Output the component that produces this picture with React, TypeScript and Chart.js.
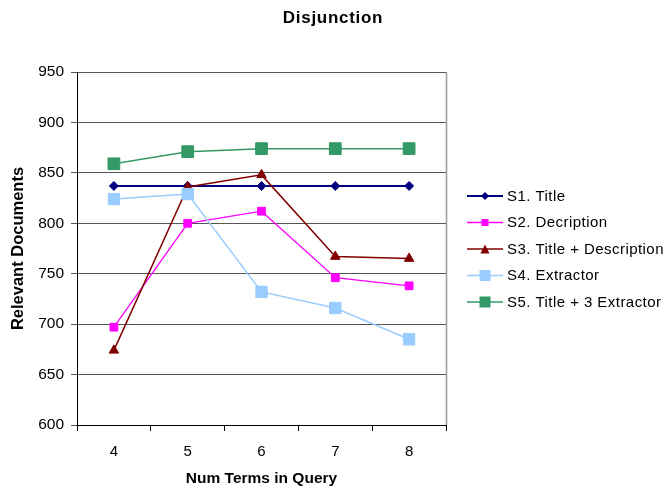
import React, { useEffect, useRef } from "react";
import { Chart, registerables } from "chart.js";

Chart.register(...registerables);

const categories = ["4", "5", "6", "7", "8"];
const seriesNames = [
  "S1. Title",
  "S2. Decription",
  "S3. Title + Description",
  "S4. Extractor",
  "S5. Title + 3 Extractor",
];
const s1Title = [837, 837, 837, 837, 837];
const s2Description = [697, 800, 812, 746, 738];
const s3TitleDescription = [674, 836, 848, 767, 765];
const s4Extractor = [824, 829, 732, 716, 685];
const s5TitleExtractor = [859, 871, 874, 874, 874];

const seriesColors = ["#000080", "#FF00FF", "#800000", "#99CCFF", "#339966"];
const seriesPoints = ["rectRot", "rect", "triangle", "rect", "rect"];
const seriesRadius = [4.5, 5.5, 5.5, 8, 8.3];
const seriesLineWidth = [2, 1.3, 1.5, 1.5, 1.5];

const chartTitle = "Disjunction";
const xTitle = "Num Terms in Query";
const yTitle = "Relevant Documents";

const FONT = "Arial, 'Liberation Sans', sans-serif";

function drawMarker(ctx: CanvasRenderingContext2D, kind: string, x: number, y: number, s: number, color: string) {
  ctx.fillStyle = color;
  ctx.beginPath();
  if (kind === "rect") {
    ctx.rect(x - s / 2, y - s / 2, s, s);
  } else if (kind === "rectRot") {
    ctx.moveTo(x, y - s / 2);
    ctx.lineTo(x + s / 2, y);
    ctx.lineTo(x, y + s / 2);
    ctx.lineTo(x - s / 2, y);
    ctx.closePath();
  } else {
    ctx.moveTo(x, y - s / 2);
    ctx.lineTo(x + s / 2, y + s / 2);
    ctx.lineTo(x - s / 2, y + s / 2);
    ctx.closePath();
  }
  ctx.fill();
}

const legendMarkerSize = [8, 7, 9, 11, 11];

const decorPlugin = {
  id: "decor",
  afterDraw(chart: any) {
    const ctx: CanvasRenderingContext2D = chart.ctx;
    const area = chart.chartArea;
    ctx.save();
    // right border of plot
    ctx.strokeStyle = "#999999";
    ctx.lineWidth = 1.5;
    ctx.beginPath();
    ctx.moveTo(Math.round(area.right) + 0.5, area.top);
    ctx.lineTo(Math.round(area.right) + 0.5, area.bottom);
    ctx.stroke();

    // title
    ctx.fillStyle = "#000";
    ctx.font = `bold 17px ${FONT}`;
    (ctx as any).letterSpacing = "0.7px";
    ctx.textAlign = "center";
    ctx.textBaseline = "middle";
    ctx.fillText(chartTitle, 333, 18);

    // legend
    const startY = 196;
    const step = 26.5;
    ctx.font = `15px ${FONT}`;
    (ctx as any).letterSpacing = "0.45px";
    ctx.textAlign = "left";
    ctx.textBaseline = "middle";
    seriesNames.forEach((name, i) => {
      const y = startY + i * step;
      ctx.strokeStyle = seriesColors[i];
      ctx.lineWidth = seriesLineWidth[i];
      ctx.beginPath();
      ctx.moveTo(467, y);
      ctx.lineTo(503, y);
      ctx.stroke();
      drawMarker(ctx, seriesPoints[i], 485, y, legendMarkerSize[i], seriesColors[i]);
      ctx.fillStyle = "#000";
      ctx.fillText(name, 507, y + 0.5);
    });
    (ctx as any).letterSpacing = "0px";
    ctx.restore();
  },
};

export default function App() {
  const canvasRef = useRef<HTMLCanvasElement>(null);

  useEffect(() => {
    if (!canvasRef.current) return;
    const allSeries = [s1Title, s2Description, s3TitleDescription, s4Extractor, s5TitleExtractor];
    const chart = new Chart(canvasRef.current, {
      type: "line",
      data: {
        labels: categories,
        datasets: allSeries.map((values, i) => ({
          label: seriesNames[i],
          data: values,
          borderColor: seriesColors[i],
          backgroundColor: seriesColors[i],
          pointBackgroundColor: seriesColors[i],
          pointBorderColor: seriesColors[i],
          pointBorderWidth: 1,
          pointStyle: seriesPoints[i] as any,
          pointRadius: seriesRadius[i],
          borderWidth: seriesLineWidth[i],
          tension: 0,
          fill: false,
          order: 5 - i,
        })),
      },
      options: {
        responsive: false,
        animation: false,
        layout: { padding: { top: 72, right: 219, left: 0, bottom: 0 } },
        plugins: {
          legend: { display: false },
          title: { display: false },
          tooltip: { enabled: false },
        },
        scales: {
          x: {
            type: "category",
            offset: true,
            afterFit: (scale: any) => {
              scale.height = 63;
            },
            grid: {
              display: true,
              drawOnChartArea: false,
              offset: true,
              tickLength: 6,
              color: "#000",
            },
            border: { color: "#000", width: 1 },
            ticks: {
              color: "#000",
              font: { family: FONT, size: 15 },
              padding: 12,
              maxRotation: 0,
            },
            title: {
              display: true,
              text: xTitle,
              color: "#000",
              font: { family: FONT, size: 15.5, weight: "bold" },
              padding: { top: 0, bottom: 0 },
            },
          },
          y: {
            min: 600,
            max: 950,
            afterFit: (scale: any) => {
              scale.width = 77;
            },
            grid: {
              color: "#555",
              tickLength: 6,
              lineWidth: 1,
            },
            border: { color: "#000", width: 1 },
            ticks: {
              stepSize: 50,
              color: "#000",
              font: { family: FONT, size: 15.5 },
              padding: 7,
            },
            title: {
              display: true,
              text: yTitle,
              color: "#000",
              font: { family: FONT, size: 16.5, weight: "bold" },
              padding: { top: 9, bottom: 0 },
            },
          },
        },
      },
      plugins: [decorPlugin],
    });
    return () => chart.destroy();
  }, []);

  return (
    <div style={{ position: "absolute", left: 0, top: 0, width: 665, height: 488, background: "#fff" }}>
      <canvas ref={canvasRef} width={665} height={488} />
    </div>
  );
}
